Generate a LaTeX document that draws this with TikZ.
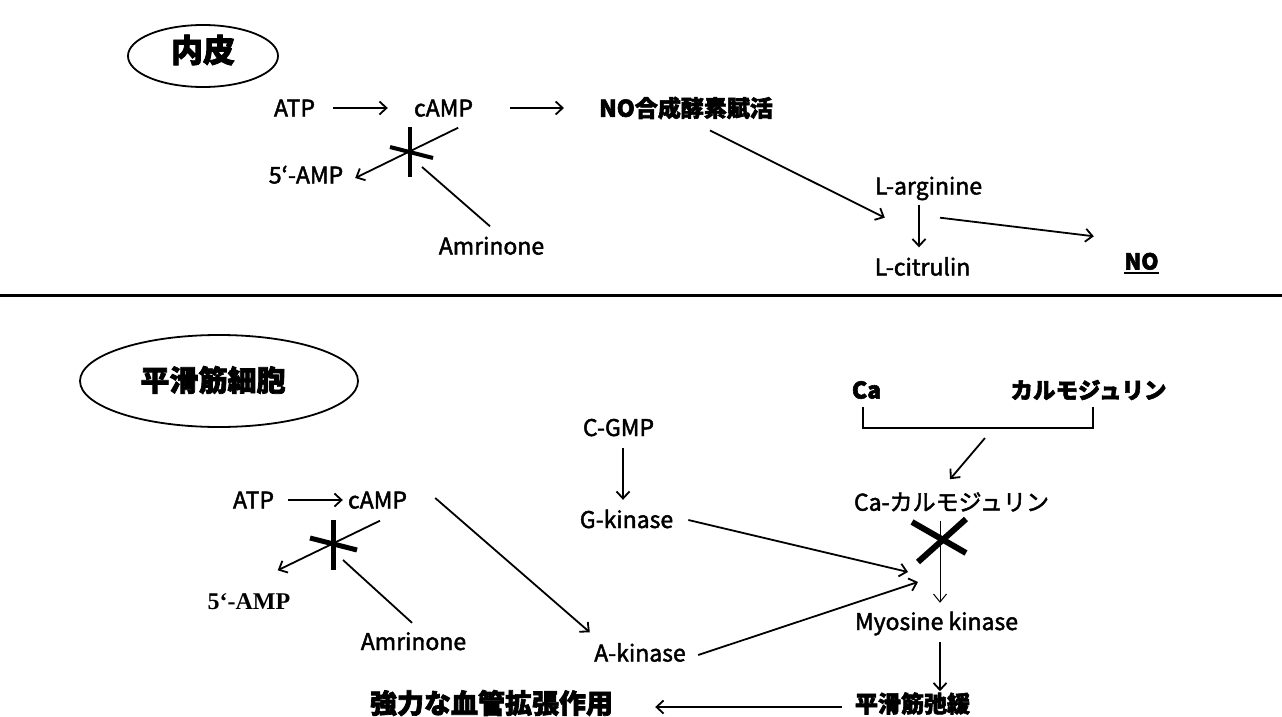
\documentclass[tikz,border=0pt]{standalone}
\usepackage{fontspec}
\setmainfont{Noto Sans CJK JP}
\newfontfamily\medf{Noto Sans CJK JP}[FakeBold=2]
\newfontfamily\heavyf{Noto Sans CJK JP}[BoldFeatures={FakeBold=2.5}]
\newfontfamily\serifb{Liberation Serif}
\usetikzlibrary{arrows.meta,shapes.geometric,calc}
\begin{document}
\begin{tikzpicture}[x=1pt,y=-1pt,
  lat/.style={inner sep=0pt, font=\fontsize{23}{25}\selectfont\medf, text height=17pt, text depth=0pt, minimum width=#1},
  lat/.default=10,
  jpb/.style={inner sep=0pt, font=\fontsize{#1}{#1}\selectfont\heavyf\bfseries},
  jpr/.style={inner sep=0pt, font=\fontsize{#1}{#1}\selectfont\medf},
  arr/.style={line width=1.8pt, -{Straight Barb[length=7pt,width=13pt]}},
  thinarr/.style={line width=1pt, -{Straight Barb[length=8pt,width=13pt]}},
  ln/.style={line width=1.8pt},
  xbar/.style={line width=5pt},
  oval/.style={draw, ellipse, line width=1.8pt, inner sep=0pt}
]
\useasboundingbox (0,0) rectangle (1282,717);
\fill[white] (0,0) rectangle (1282,717);

% ---------------- top: endothelium ----------------
\node[oval, minimum width=150pt, minimum height=62pt] (endo) at (203,56) {};
\node[jpb=32] (endot) at (203,50) {内皮};

\node[lat=45] (atp1) at (294.5,108) {ATP};
\node[lat=63] (camp1) at (443.5,108) {cAMP};
\node[jpb=23, minimum width=172pt] (nos) at (686,108) {NO合成酵素賦活};
\node[lat=82] (amp1) at (306,175) {5‘-AMP};
\node[lat=107] (amr1) at (491.5,246) {Amrinone};
\node[lat=109] (larg) at (928.5,186) {L-arginine};
\node[lat=97] (lcit) at (922.5,267) {L-citrulin};
\node[lat=35, font=\fontsize{22}{24}\selectfont\heavyf\bfseries] (no) at (1141.5,261) {NO};
\draw[line width=1.8pt] ([yshift=-3pt]no.south west) -- ([yshift=-3pt]no.south east);

\coordinate (inh1) at (422,167);

\draw[arr, shorten <=16pt, shorten >=24pt] (atp1) -- (camp1);
\draw[arr, shorten <=35pt, shorten >=35pt] (camp1) -- (nos);
\draw[arr] ([shift={(-17,11)}]camp1.south east) -- ([shift={(8,3)}]amp1.east);
\draw[xbar, line width=4pt] (410,127) -- (410,177);
\draw[xbar, line width=4pt] (390,147) -- (433,158);
\draw[ln] ([shift={(-1.5,-11)}]amr1.north) -- (inh1);
\draw[arr] ([shift={(24,11)}]nos.south) -- ([shift={(11,23)}]larg.south west);
\draw[arr] ([shift={(-9.5,10)}]larg.south) -- ([shift={(-3.5,-11)}]lcit.north);
\draw[arr] ([shift={(11.5,23)}]larg.south) -- ([shift={(-30,-16)}]no.north west);

% separator
\draw[line width=3pt] (0,295) -- (1282,295);

% ---------------- bottom: smooth muscle ----------------
\node[oval, minimum width=278pt, minimum height=92pt] (smc) at (219,381) {};
\node[jpb=29] (smct) at (213,380) {平滑筋細胞};

\node[jpb=23, minimum width=27pt] (ca) at (866.5,390) {Ca};
\node[jpb=22.5, minimum width=157pt] (calm) at (1088.5,390) {カルモジュリン};
\draw[ln] (863,407) -- (863,428) -- (1093,428) -- (1093,407);
\coordinate (brk) at (985,438);
\node[jpr=23, minimum width=197pt] (cacalm) at (951.5,502) {Ca-カルモジュリン};
\draw[arr] (brk) -- ([shift={(-1.5,-13)}]cacalm.north);

\node[lat=163] (myo) at (936.5,621.5) {Myosine kinase};
\node[jpb=23, minimum width=115pt] (relax) at (912.5,703.5) {平滑筋弛緩};
\node[jpb=27, minimum width=243pt] (strong) at (491.5,703) {強力な血管拡張作用};

\draw[thinarr] ([shift={(-11.5,9)}]cacalm.south) -- ([shift={(3.5,-10)}]myo.north);
\draw[xbar, line width=6pt] (912,522) -- (966,553);
\draw[xbar, line width=6pt] (966,519) -- (918,562);
\draw[arr] ([shift={(3.5,12)}]myo.south) -- ([shift={(27.5,-1)}]relax.north);
\draw[arr] ([shift={(-13,3.5)}]relax.west) -- ([shift={(42,4)}]strong.east);

\node[lat=73] (cgmp) at (618.5,427.5) {C-GMP};
\node[lat=93] (gk) at (626.5,519.5) {G-kinase};
\node[lat=94] (ak) at (640,653) {A-kinase};
\coordinate (mk1) at (908,572);
\coordinate (mk2) at (918,582);
\draw[arr] ([shift={(4.5,12)}]cgmp.south) -- ([shift={(-3.5,-11)}]gk.north);
\draw[arr] ([shift={(15,0.5)}]gk.east) -- (mk1);
\draw[arr] ([shift={(11,2)}]ak.east) -- (mk2);

\node[lat=47] (atp2) at (253.5,500) {ATP};
\node[lat=65] (camp2) at (377.5,500) {cAMP};
\node[inner sep=0pt, font=\fontsize{24}{26}\selectfont\serifb\bfseries, text height=16pt, text depth=0pt, minimum width=85pt] (amp2) at (249,601.5) {5‘-AMP};
\node[lat=107] (amr2) at (413.5,641.5) {Amrinone};
\coordinate (inh2) at (343,560);

\draw[arr, shorten <=11pt, shorten >=2pt] (atp2) -- (camp2);
\draw[arr] ([shift={(25,-2)}]camp2.east) -- ([shift={(-3,-12)}]ak.north west);
\draw[arr] ([shift={(2.5,12)}]camp2.south) -- ([shift={(-14,-23)}]amp2.north east);
\draw[xbar] (333,520) -- (333,570);
\draw[xbar] (310,538) -- (357,550);
\draw[ln] ([shift={(-1.5,-10)}]amr2.north) -- (inh2);
\end{tikzpicture}
\end{document}
